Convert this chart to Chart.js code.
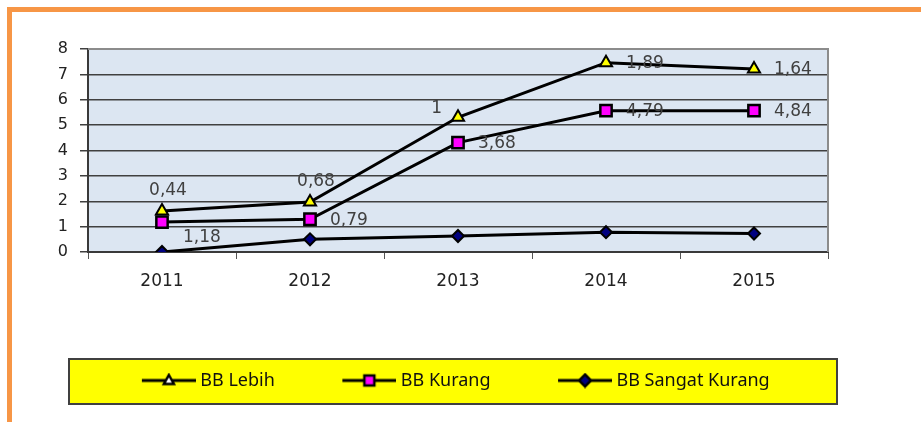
<!DOCTYPE html>
<html>
<head>
<meta charset="utf-8">
<script src="https://cdn.jsdelivr.net/npm/chart.js@4.4.0/dist/chart.umd.min.js"></script>
<style>
  body { margin: 0; background: #fff; }
  #frame { position: absolute; left: 7px; top: 7px; width: 930px; height: 430px;
           border-top: 5px solid #f79646; border-left: 5px solid #f79646; }
  #legendBox { position: absolute; left: 68px; top: 358px; width: 770px; height: 47px;
               box-sizing: border-box; background: #ffff00; border: 2px solid #404040; }
  #wrap { position: absolute; left: 0; top: 0; width: 921px; height: 422px; }
</style>
</head>
<body>
<div id="frame"></div>
<div id="legendBox"></div>
<div id="wrap"><canvas id="chart"></canvas></div>
<script>
// data (stacked line chart)
const years = ["2011", "2012", "2013", "2014", "2015"];
const bbSangatKurang = [0, 0.5, 0.63, 0.78, 0.73];
const bbKurang = [1.18, 0.79, 3.68, 4.79, 4.84];
const bbLebih = [0.44, 0.68, 1, 1.89, 1.64];
const yTicks = [0, 1, 2, 3, 4, 5, 6, 7, 8];

// where each data label sits relative to its point
const lebihLabelPos = ["above", "above", "left", "right", "right"];
const kurangLabelPos = ["belowRight", "right", "right", "right", "right"];

// legend icon: transparent lead-in + line with marker (line sits on the right 54px)
const ICON_W = 116;
function legendIcon(shape, fill) {
  const c = document.createElement("canvas");
  c.width = ICON_W; c.height = 16;
  const ctx = c.getContext("2d");
  const ox = ICON_W - 54;
  ctx.strokeStyle = "#000";
  ctx.lineWidth = 3;
  ctx.beginPath(); ctx.moveTo(ox, 8); ctx.lineTo(ox + 54, 8); ctx.stroke();
  ctx.fillStyle = fill;
  ctx.lineWidth = 2.5;
  ctx.beginPath();
  const cx = ox + 27;
  if (shape === "triangle") {
    ctx.moveTo(cx, 2.5); ctx.lineTo(cx + 5, 11.5); ctx.lineTo(cx - 5, 11.5); ctx.closePath();
  } else if (shape === "rect") {
    ctx.rect(cx - 5, 3, 10, 10);
  } else {
    ctx.moveTo(cx, 2); ctx.lineTo(cx + 6, 8); ctx.lineTo(cx, 14); ctx.lineTo(cx - 6, 8); ctx.closePath();
  }
  ctx.fill(); ctx.stroke();
  return c;
}

const plotBg = {
  id: "plotBg",
  beforeDraw(chart) {
    const { ctx, chartArea: a } = chart;
    ctx.save();
    ctx.fillStyle = "#dce6f2";
    ctx.fillRect(a.left, a.top, a.right - a.left, a.bottom - a.top);
    ctx.restore();
  },
  beforeDatasetsDraw(chart) {
    const { ctx, chartArea: a } = chart;
    ctx.save();
    ctx.strokeStyle = "#8c8c8c";
    ctx.lineWidth = 2;
    ctx.beginPath();
    ctx.moveTo(a.left, a.top); ctx.lineTo(a.right, a.top); ctx.lineTo(a.right, a.bottom);
    ctx.stroke();
    ctx.restore();
  }
};

const valueLabels = {
  id: "valueLabels",
  afterDatasetsDraw(chart) {
    const ctx = chart.ctx;
    ctx.save();
    ctx.font = "17px 'DejaVu Sans'";
    ctx.fillStyle = "#404040";
    ctx.textBaseline = "middle";
    chart.data.datasets.forEach((ds, i) => {
      if (!ds.labelPos) return;
      chart.getDatasetMeta(i).data.forEach((pt, j) => {
        const txt = String(ds.data[j]).replace(".", ",");
        const pos = ds.labelPos[j];
        let x = pt.x, y = pt.y;
        if (pos === "above") { ctx.textAlign = "center"; x += 6; y -= 20; }
        else if (pos === "left") { ctx.textAlign = "right"; x -= 16; y -= 9; }
        else if (pos === "belowRight") { ctx.textAlign = "left"; x += 21; y += 16; }
        else { ctx.textAlign = "left"; x += 20; y += 1; }
        ctx.fillText(txt, x, y);
      });
    });
    ctx.restore();
  }
};

new Chart(document.getElementById("chart"), {
  type: "line",
  data: {
    labels: years,
    datasets: [
      {
        label: "BB Sangat Kurang",
        data: bbSangatKurang,
        borderColor: "#000", borderWidth: 3,
        pointStyle: "rectRot", pointRadius: 6,
        pointBackgroundColor: "#000080", pointBorderColor: "#000", pointBorderWidth: 2,
        legendIcon: legendIcon("rectRot", "#000080")
      },
      {
        label: "BB Kurang",
        data: bbKurang,
        labelPos: kurangLabelPos,
        borderColor: "#000", borderWidth: 3,
        pointStyle: "rect", pointRadius: 8,
        pointBackgroundColor: "#ff00ff", pointBorderColor: "#000", pointBorderWidth: 2.5,
        legendIcon: legendIcon("rect", "#ff00ff")
      },
      {
        label: "BB Lebih",
        data: bbLebih,
        labelPos: lebihLabelPos,
        borderColor: "#000", borderWidth: 3,
        pointStyle: "triangle", pointRadius: 7,
        pointBackgroundColor: "#ffff00", pointBorderColor: "#000", pointBorderWidth: 2,
        legendIcon: legendIcon("triangle", "#ffffff")
      }
    ]
  },
  options: {
    responsive: true,
    maintainAspectRatio: false,
    animation: false,
    layout: { padding: { left: 26, right: 93, top: 49, bottom: 22.5 } },
    plugins: {
      tooltip: { enabled: false },
      legend: {
        position: "bottom",
        reverse: true,
        labels: {
          usePointStyle: true,
          pointStyleWidth: ICON_W - 9,
          padding: 10,
          color: "#111",
          font: { family: "'Noto Sans'", size: 18 },
          generateLabels(chart) {
            return chart.data.datasets.map((ds, i) => ({
              text: ds.label,
              pointStyle: ds.legendIcon,
              fillStyle: "#000",
              strokeStyle: "#000",
              lineWidth: 0,
              fontColor: "#111",
              hidden: false,
              datasetIndex: i
            }));
          }
        }
      }
    },
    scales: {
      x: {
        offset: true,
        grid: { offset: true, drawOnChartArea: false, drawTicks: true, tickLength: 7, color: "#555" },
        border: { color: "#3a3a3a", width: 2 },
        ticks: { padding: 12, color: "#222", font: { family: "'DejaVu Sans'", size: 17 } },
        afterFit(scale) { scale.height = 109.5; }
      },
      y: {
        stacked: true,
        min: 0, max: 8,
        afterBuildTicks(scale) { scale.ticks = yTicks.map(v => ({ value: v })); },
        grid: { color: "#404040", lineWidth: 1.5, tickLength: 8 },
        border: { color: "#3a3a3a", width: 2 },
        ticks: { autoSkip: false, padding: 12, color: "#222", font: { family: "'DejaVu Sans'", size: 16 } },
        afterFit(scale) { scale.width = 62; }
      }
    }
  },
  plugins: [plotBg, valueLabels]
});
</script>
</body>
</html>
